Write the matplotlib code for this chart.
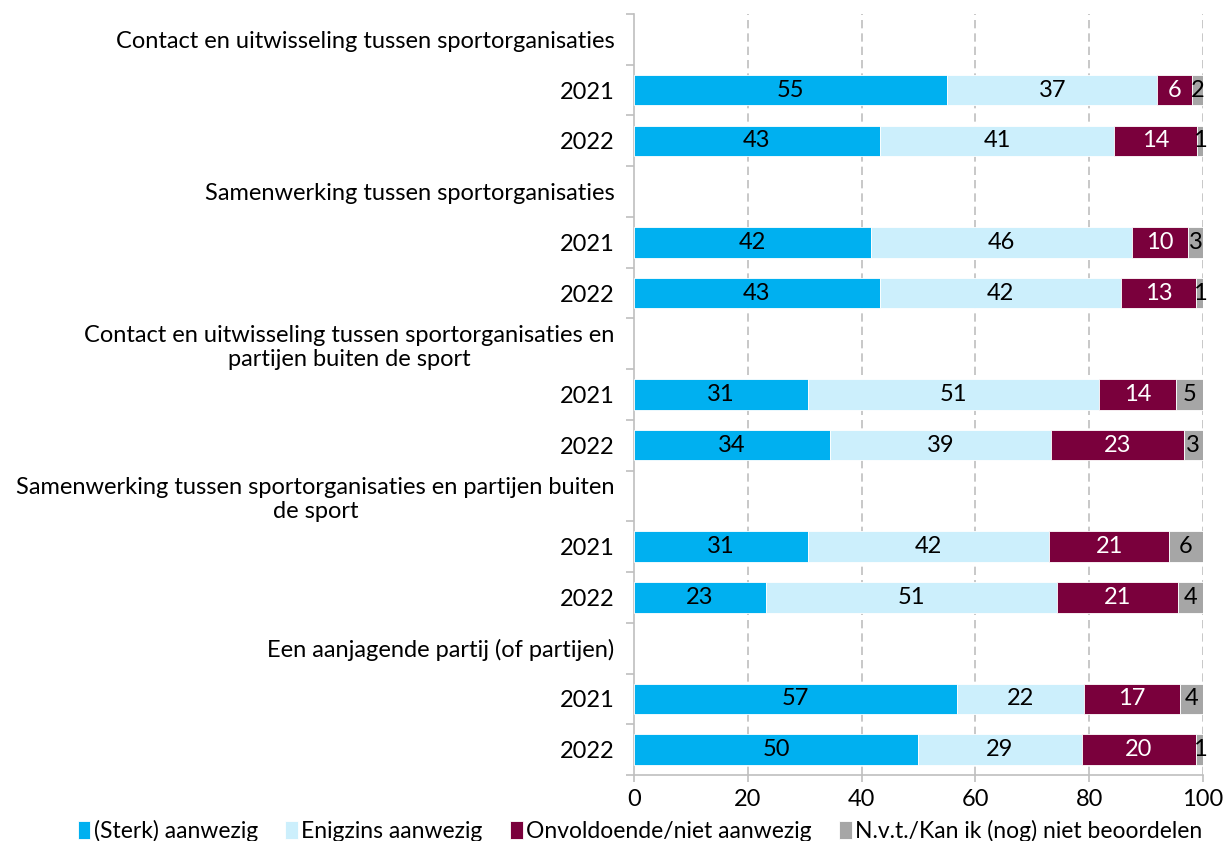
import matplotlib
matplotlib.use("Agg")
import matplotlib.pyplot as plt
import numpy as np

categories = [
    "Contact en uitwisseling tussen sportorganisaties",
    "2021", "2022",
    "Samenwerking tussen sportorganisaties",
    "2021", "2022",
    "Contact en uitwisseling tussen sportorganisaties en\npartijen buiten de sport",
    "2021", "2022",
    "Samenwerking tussen sportorganisaties en partijen buiten\nde sport",
    "2021", "2022",
    "Een aanjagende partij (of partijen)",
    "2021", "2022",
]
series_names = ["(Sterk) aanwezig", "Enigzins aanwezig",
                "Onvoldoende/niet aanwezig", "N.v.t./Kan ik (nog) niet beoordelen"]
# None = header row (no bar)
sterk = [None, 55.0, 43.2, None, 41.7, 43.2, None, 30.6, 34.4, None, 30.6, 23.2, None, 56.8, 49.9]
enigzins = [None, 37.0, 41.2, None, 45.8, 42.4, None, 51.1, 38.9, None, 42.4, 51.2, None, 22.3, 28.8]
onvoldoende = [None, 6.0, 14.5, None, 9.9, 13.2, None, 13.6, 23.3, None, 21.0, 21.2, None, 16.9, 20.1]
nvt = [None, 2.0, 1.1, None, 2.6, 1.2, None, 4.7, 3.4, None, 6.0, 4.4, None, 4.0, 1.2]

colors = ["#00B0F0", "#CCEFFC", "#7A003C", "#A6A6A6"]
text_colors = ["black", "black", "white", "black"]

FONT = "Lato"
plt.rcParams["font.family"] = [FONT, "DejaVu Sans"]
FS = 17

fig = plt.figure(figsize=(12.24, 8.41), dpi=100)
ax = fig.add_axes([634/1224, 1-775/841, (1203-634)/1224, (775-14)/841])

n = len(categories)
ypos = np.arange(n)
all_series = [sterk, enigzins, onvoldoende, nvt]
for i in range(n):
    if sterk[i] is None:
        continue
    left = 0.0
    for s, series in enumerate(all_series):
        v = series[i]
        ax.barh(ypos[i], v, left=left, height=0.6, color=colors[s],
                edgecolor="white", linewidth=0.6, zorder=3,
                label=series_names[s] if i == 1 else None)
        ax.text(left + v/2, ypos[i], f"{round(v)}", ha="center", va="center",
                fontsize=FS, color=text_colors[s], zorder=4)
        left += v

ax.set_ylim(n - 0.5, -0.5)
ax.set_xlim(0, 100)
ax.set_yticks(ypos)
ax.set_yticklabels(categories, fontsize=FS)
for lab in ax.get_yticklabels():
    lab.set_multialignment("center")
ax.tick_params(axis="y", which="major", length=0, pad=14)
ax.set_yticks(np.arange(-0.5, n, 1.0), minor=True)
ax.tick_params(axis="y", which="minor", length=6, color="#BFBFBF", width=1.2)
ax.set_xticks([0, 20, 40, 60, 80, 100])
ax.tick_params(axis="x", labelsize=FS, length=5, color="#BFBFBF", width=1.2, pad=5)

for x in [20, 40, 60, 80, 100]:
    ax.axvline(x, color="#BFBFBF", linestyle=(0, (5, 3)), linewidth=1.2, zorder=1)

for sp in ["top", "right"]:
    ax.spines[sp].set_visible(False)
for sp in ["left", "bottom"]:
    ax.spines[sp].set_color("#BFBFBF")
    ax.spines[sp].set_linewidth(1.2)

handles, labels = ax.get_legend_handles_labels()
leg = fig.legend(handles, labels, loc="center", bbox_to_anchor=(0.523, 1-831/841),
                 ncol=4, frameon=False, fontsize=16.5, handlelength=0.55,
                 handleheight=0.8, handletextpad=0.15, columnspacing=1.2)

fig.savefig("out.png", dpi=100)
